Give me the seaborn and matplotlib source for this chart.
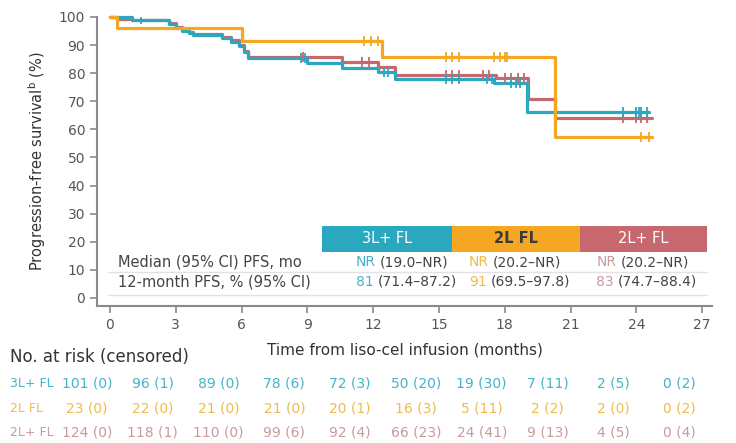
import matplotlib
matplotlib.use('Agg')
import numpy as np
import pandas as pd
import matplotlib.pyplot as plt
import matplotlib.transforms as mtransforms
from matplotlib.patches import Rectangle
import seaborn as sns

# Kaplan-Meier step points (months, % PFS)
t_3l = [0, 1.0, 2.7, 3.0, 3.3, 3.6, 3.8, 5.1, 5.5, 5.9, 6.1, 6.3, 9.0, 10.6, 12.2, 13.0, 17.5, 19.0, 24.6]
s_3l = [100, 99, 97.5, 96.2, 95, 94.2, 93.6, 92.5, 91.2, 89.5, 87.5, 85.4, 83.6, 81.9, 80.4, 77.9, 76.5, 66.2, 66.2]
t_2l = [0, 0.3, 6.0, 12.4, 20.3, 24.7]
s_2l = [100, 96, 91.5, 85.8, 57.3, 57.3]
t_2lp = [0, 0.3, 1.0, 2.7, 3.0, 3.3, 3.6, 3.8, 5.1, 5.5, 5.9, 6.1, 6.3, 10.6, 12.2, 13.0, 17.6, 19.05, 20.3, 24.7]
s_2lp = [100, 99.3, 98.9, 97.8, 96.5, 95.3, 94.5, 94, 93, 91.8, 90, 88, 85.8, 84, 82.2, 79.4, 78.3, 70.8, 64, 64]

# censoring marks
c_t_3l = [1.4, 8.7, 8.9, 12.5, 12.7, 15.3, 15.6, 15.9, 17.2, 17.4, 18.3, 18.5, 18.7, 23.4, 24.0, 24.1, 24.2, 24.5]
c_s_3l = [99, 85.4, 85.4, 80.4, 80.4, 77.9, 77.9, 77.9, 77.9, 77.9, 76.5, 76.5, 76.5, 66.2, 66.2, 66.2, 66.2, 66.2]
c_t_2l = [11.6, 11.9, 12.2, 15.3, 15.6, 15.9, 17.5, 17.8, 18.0, 18.1, 24.2, 24.6]
c_s_2l = [91.5, 91.5, 91.5, 85.8, 85.8, 85.8, 85.8, 85.8, 85.8, 85.8, 57.3, 57.3]
c_t_2lp = [8.8, 11.5, 11.8, 15.3, 15.6, 15.9, 17.0, 17.3, 18.0, 18.3, 18.6, 18.9, 23.4, 24.0, 24.2, 24.5]
c_s_2lp = [85.8, 84, 84, 79.4, 79.4, 79.4, 79.4, 79.4, 78.3, 78.3, 78.3, 78.3, 64, 64, 64, 64]

groups = ["3L+ FL", "2L FL", "2L+ FL"]
median_txt = [("NR", "(19.0–NR)"), ("NR", "(20.2–NR)"), ("NR", "(20.2–NR)")]
pfs12_txt = [("81", "(71.4–87.2)"), ("91", "(69.5–97.8)"), ("83", "(74.7–88.4)")]

risk_times = [0, 3, 6, 9, 12, 15, 18, 21, 24, 27]
risk_3l = [101, 96, 89, 78, 72, 50, 19, 7, 2, 0]
cens_3l = [0, 1, 0, 6, 3, 20, 30, 11, 5, 2]
risk_2l = [23, 22, 21, 21, 20, 16, 5, 2, 2, 0]
cens_2l = [0, 0, 0, 0, 1, 3, 11, 2, 0, 2]
risk_2lp = [124, 118, 110, 99, 92, 66, 24, 9, 4, 0]
cens_2lp = [0, 1, 0, 6, 4, 23, 41, 13, 5, 4]

colors = {"3L+ FL": "#2aa8c0", "2L FL": "#f5a623", "2L+ FL": "#c7686e"}
light = {"3L+ FL": "#46b3ca", "2L FL": "#f0bb4a", "2L+ FL": "#c99a9d"}

curves = pd.concat([
    pd.DataFrame({"time": t_2lp, "pfs": s_2lp, "group": "2L+ FL"}),
    pd.DataFrame({"time": t_3l, "pfs": s_3l, "group": "3L+ FL"}),
    pd.DataFrame({"time": t_2l, "pfs": s_2l, "group": "2L FL"}),
])
cens = pd.concat([
    pd.DataFrame({"time": c_t_2lp, "pfs": c_s_2lp, "group": "2L+ FL"}),
    pd.DataFrame({"time": c_t_3l, "pfs": c_s_3l, "group": "3L+ FL"}),
    pd.DataFrame({"time": c_t_2l, "pfs": c_s_2l, "group": "2L FL"}),
])

sns.set_theme(style="ticks")
plt.rcParams['font.family'] = ['DejaVu Sans']
grey = "#555555"
axis_col = "#8a8a8a"

fig = plt.figure(figsize=(7.36, 4.43), dpi=100)
ax = fig.add_axes([0.1318, 0.3093, 0.8356, 0.6524])

sns.lineplot(data=curves, x="time", y="pfs", hue="group", palette=colors,
             hue_order=["2L+ FL", "3L+ FL", "2L FL"], drawstyle="steps-post",
             estimator=None, linewidth=2.3, legend=False, ax=ax)
sns.scatterplot(data=cens, x="time", y="pfs", hue="group", palette=colors,
                hue_order=["2L+ FL", "3L+ FL", "2L FL"], marker="|", s=45,
                linewidth=1.3, legend=False, ax=ax, zorder=3)
for ln in ax.lines:
    ln.set_clip_on(False)

ax.set_xlim(-0.59, 27.45)
ax.set_ylim(-2.85, 100)
ax.set_xticks(risk_times)
ax.set_yticks(range(0, 101, 10))
ax.tick_params(axis="both", colors=axis_col, labelcolor=grey, labelsize=10,
               length=5, width=1.2)
for side in ["top", "right"]:
    ax.spines[side].set_visible(False)
for side in ["left", "bottom"]:
    ax.spines[side].set_color(axis_col)
    ax.spines[side].set_linewidth(1.5)
ax.set_xlabel("Time from liso-cel infusion (months)", fontsize=11, color="#333333", labelpad=8)
ax.set_ylabel(r"Progression-free survival$^\mathrm{b}$ (%)", fontsize=10.5, color="#333333", labelpad=8)

# summary table inside the plot
box_edges = [9.67, 15.6, 21.43, 27.2]
txt_col = {"3L+ FL": "white", "2L FL": "#3a3a3a", "2L+ FL": "white"}
for i, g in enumerate(groups):
    ax.add_patch(Rectangle((box_edges[i], 16.4), box_edges[i + 1] - box_edges[i], 9.2,
                           facecolor=colors[g], edgecolor="none", zorder=2))
    ax.text((box_edges[i] + box_edges[i + 1]) / 2, 21.0, g, ha="center", va="center",
            fontsize=10.5, color=txt_col[g], fontweight="bold" if g == "2L FL" else "normal", zorder=3)

for yv in [9.3, 1.1]:
    ax.plot([-0.1, 27.2], [yv, yv], color="#e2e2e2", linewidth=1.0, zorder=1)

ax.text(0.36, 12.8, "Median (95% CI) PFS, mo", ha="left", va="center", fontsize=10.5, color="#444444")
ax.text(0.36, 5.7, "12-month PFS, % (95% CI)", ha="left", va="center", fontsize=10.5, color="#444444")
starts = [11.2, 16.37, 22.17]
for i, g in enumerate(groups):
    for yv, pair in [(12.8, median_txt[i]), (5.7, pfs12_txt[i])]:
        t1 = ax.text(starts[i], yv, pair[0], ha="left", va="center", fontsize=10, color=light[g])
        ax.annotate(pair[1], xy=(1, 0.5), xycoords=t1, xytext=(3, 0), textcoords="offset points",
                    ha="left", va="center", fontsize=10, color="#444444")

# number at risk table
trans = mtransforms.blended_transform_factory(ax.transData, fig.transFigure)
fig.text(0.0136, 0.194, "No. at risk (censored)", fontsize=12, color="#333333", va="center")
rows = [("3L+ FL", risk_3l, cens_3l, 0.1354), ("2L FL", risk_2l, cens_2l, 0.079),
        ("2L+ FL", risk_2lp, cens_2lp, 0.0248)]
for g, r, c, yf in rows:
    fig.text(0.0136, yf, g, fontsize=9, color=light[g], va="center")
    for tx, n, k in zip(risk_times, r, c):
        ax.text(tx - 1.05, yf, f"{n} ({k})", transform=trans, ha="center", va="center",
                fontsize=10, color=light[g])

fig.savefig("out.png", dpi=100)
